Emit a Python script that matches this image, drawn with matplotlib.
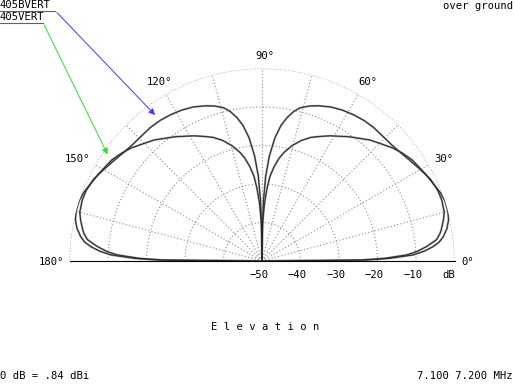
import numpy as np
import matplotlib
matplotlib.use("Agg")
import matplotlib.pyplot as plt

# elevation angle (deg, 0..90) and gain (dB rel. 0 dB = .84 dBi); pattern is symmetric about 90 deg
ang_b = [0, 0.55, 1.2, 2.4, 3.5, 5, 7, 8.8, 10, 12.7, 15, 18.7, 22, 26, 30, 34, 38, 42, 46, 50,
         54, 58, 62, 66, 70, 73, 76, 78, 80, 82, 84, 86, 87.5, 88.6, 89.3, 90]
db_b = [-50, -24.5, -18.3, -12.4, -9.7, -7.1, -4.3, -3.2, -2.7, -1.7, -1.0, -0.7, -0.8, -1.4, -2.5, -3.5, -4.3, -4.8, -4.9, -4.8,
        -4.9, -5.2, -5.6, -6.2, -7.1, -7.9, -9.0, -10.3, -12.1, -14.4, -17.8, -22.7, -27.9, -34.4, -40.9, -50]

ang_v = [0, 0.55, 1.2, 2.3, 3.5, 4.8, 6, 7.6, 10, 12.4, 15, 18.3, 21, 24.4, 28, 31.5, 34, 37.5, 40.8, 44,
         48.3, 52, 55, 58, 61.5, 65, 68.5, 72, 75.5, 78.5, 80.5, 82.7, 84.6, 86, 87.5, 88.8, 89.5, 90]
db_v = [-50, -22.8, -16.8, -10.7, -7.7, -5.4, -3.8, -2.5, -1.2, -0.4, 0, 0, -0.4, -1.2, -1.9, -2.6, -3.0, -4.0, -5.1, -6.4,
        -7.9, -9.5, -10.6, -11.8, -13.0, -14.3, -15.5, -17.1, -19.1, -21.2, -22.9, -25.3, -27.9, -31.0, -34.9, -39.6, -43.5, -50]

ring_db = [-40, -30, -20, -10]
ring_labels = ["\u221250", "\u221240", "\u221230", "\u221220", "\u221210"]
angle_labels = [0, 30, 60, 90, 120, 150, 180]
traces = ["405BVERT", "405VERT"]
arrow_colors = ["#3c3cff", "#30e030"]

fig = plt.figure(figsize=(5.13, 3.85), dpi=100)
plt.rcParams['font.family'] = ['DejaVu Sans Mono']
fs = 7.6

W, H = 513, 385
cx, cy, R = 262, 261, 192.5
# half-disc wedge is drawn centred in the axes box at half scale, so use a doubled box
wy = (H - cy) + R / 2
ax = fig.add_axes([(cx - 2 * R) / W, (wy - R) / H, 4 * R / W, 2 * R / H], projection='polar')
ax.set_thetamin(0)
ax.set_thetamax(180)
ax.set_ylim(-50, 0)
ax.set_xticks([])
ax.set_yticks([])
ax.grid(False)
ax.patch.set_alpha(0)
for s in ax.spines.values():
    s.set_visible(False)

grid_kw = dict(color='#8c8c8c', lw=0.8, ls=(0, (1, 2)), zorder=1)
th = np.radians(np.linspace(0, 180, 361))
for r in ring_db:
    ax.plot(th, np.full_like(th, r), **grid_kw)
ax.plot(th, np.zeros_like(th), color='#8c8c8c', lw=0.8, ls=(0, (1, 1.5)), zorder=1)
for a in range(0, 181, 15):
    ax.plot([np.radians(a)] * 2, [-50, 0], **grid_kw)

# traces (mirror each half to 180)
for ang, db in [(ang_b, db_b), (ang_v, db_v)]:
    full_a = np.radians(ang + [180 - a for a in ang[::-1]])
    full_d = db + db[::-1]
    ax.plot(full_a, full_d, color='#8a8a8a', lw=1.4, zorder=3)
    ax.plot(full_a, full_d, color='#202020', lw=0.6, zorder=4)

# angle labels
offs = {0: (13, -1), 30: (15, 6), 60: (10, 12), 90: (3, 12), 120: (-6, 12), 150: (-18, 6), 180: (-18, -1)}
for a in angle_labels:
    ax.annotate(f"{a}\u00b0", xy=(np.radians(a), 0), xytext=offs[a], textcoords='offset pixels',
                ha='center', va='center', fontsize=fs, annotation_clip=False)

# dB labels
for r, lab in zip([-50] + ring_db, ring_labels):
    ax.annotate(lab, xy=(0, r), xytext=(-3, -14), textcoords='offset pixels',
                ha='center', va='center', fontsize=fs, annotation_clip=False)
ax.annotate("dB", xy=(0, 0), xytext=(-6, -14), textcoords='offset pixels',
            ha='center', va='center', fontsize=fs, annotation_clip=False)

# legend labels with pointer arrows
tips = [(126.1, -3.7), (145.8, -1.9)]
ends = [55, 43]
for i, name in enumerate(traces):
    y = 5 + 12 * i
    fig.text(0, 1 - y / H, name, fontsize=fs, ha='left', va='center')
    fig.add_artist(plt.Line2D([0, ends[i] / W], [1 - (y + 5.5) / H] * 2, color='#606060', lw=0.8))
    ax.annotate('', xy=(np.radians(tips[i][0]), tips[i][1]), xycoords='data',
                xytext=(ends[i] / W, 1 - (y + 5.5) / H), textcoords='figure fraction',
                arrowprops=dict(arrowstyle='-|>', color=arrow_colors[i], lw=0.7, mutation_scale=9),
                annotation_clip=False)

fig.text(1, 1 - 6 / H, "over ground", fontsize=fs, ha='right', va='center')
fig.text(265 / W, 1 - 327 / H, "E l e v a t i o n", fontsize=fs, ha='center', va='center')
fig.text(0, 1 - 376 / H, "0 dB = .84 dBi", fontsize=fs, ha='left', va='center')
fig.text(1, 1 - 376 / H, "7.100 7.200 MHz", fontsize=fs, ha='right', va='center')

fig.savefig("out.png", dpi=100)
